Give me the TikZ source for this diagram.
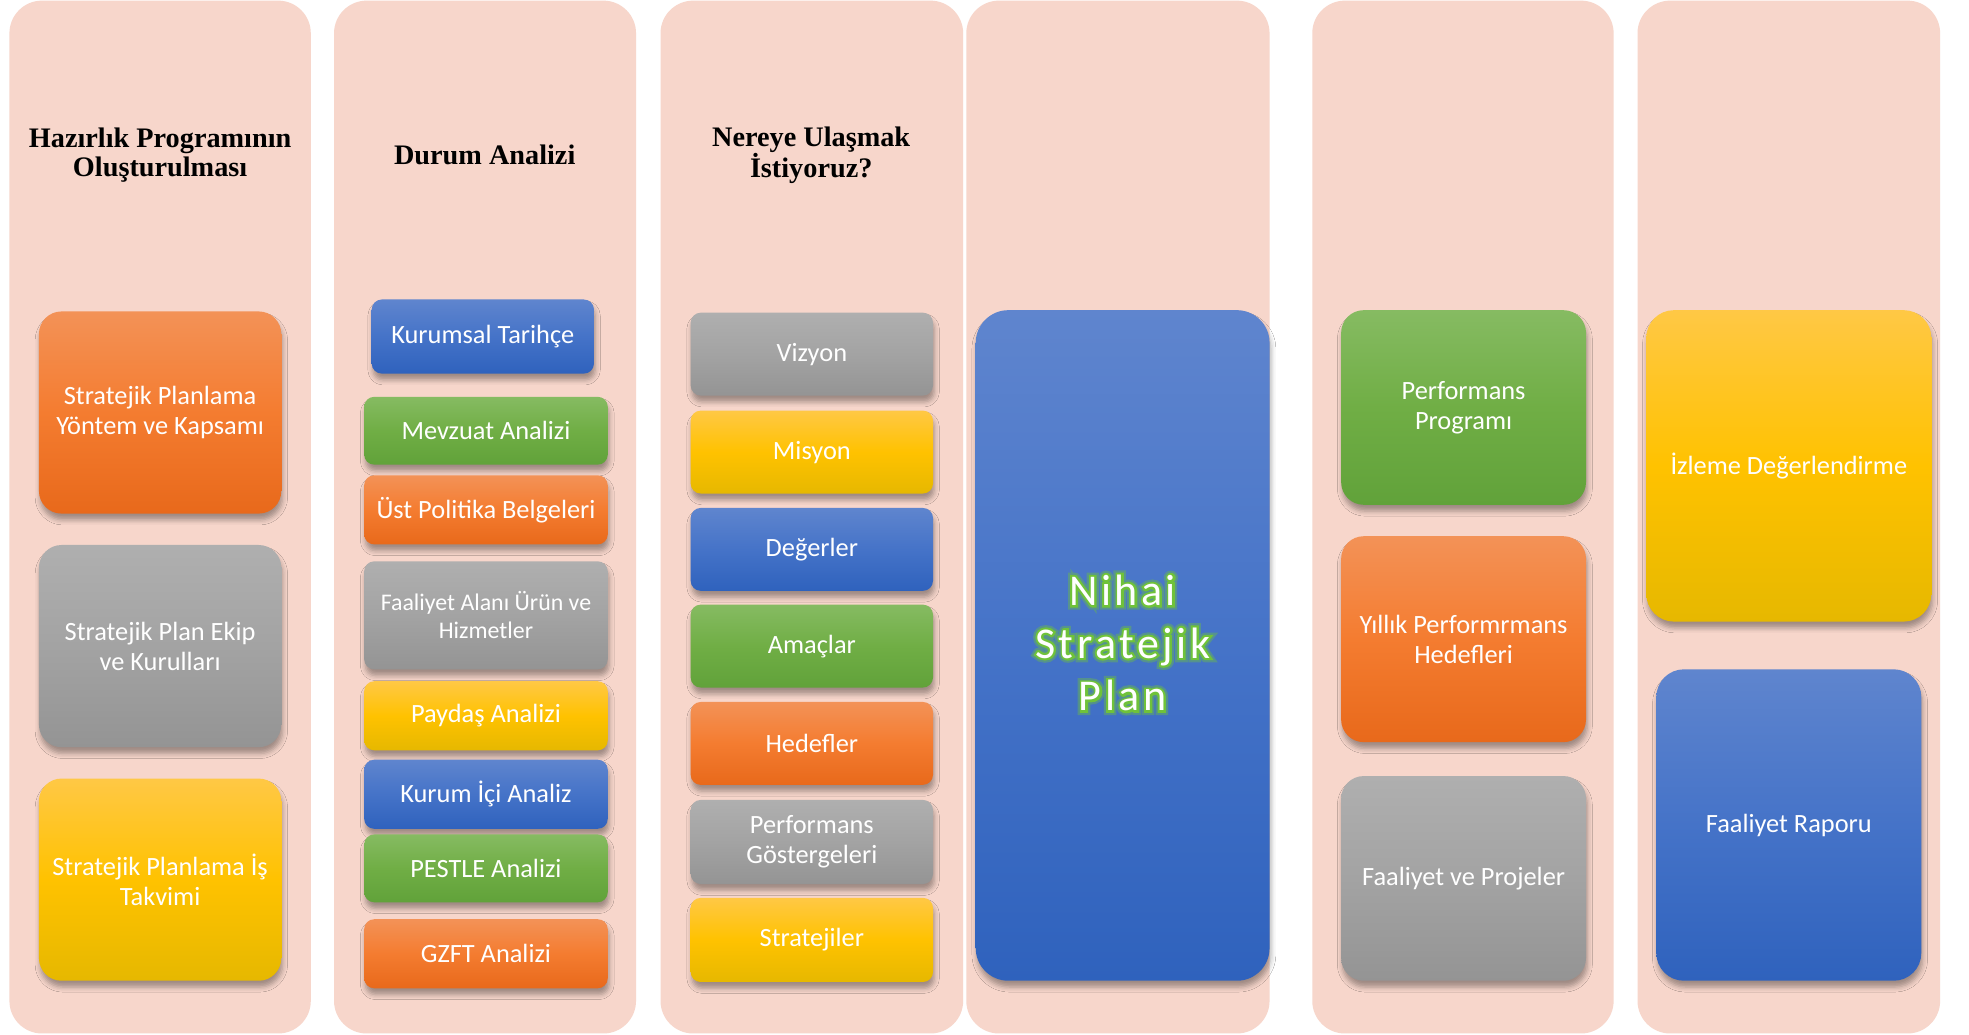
\documentclass[tikz,border=0pt]{standalone}
\usepackage{fontspec}
\setmainfont{Carlito}
\newfontfamily\headfont{Liberation Serif}
\newfontfamily\glowfontA[FakeBold=10]{Carlito}
\newfontfamily\glowfontB[FakeBold=20]{Carlito}
\usetikzlibrary{shadows.blur}
\definecolor{panelc}{HTML}{F7D6CB}
\definecolor{oT}{HTML}{F39257}
\definecolor{oM}{HTML}{F47C30}
\definecolor{oB}{HTML}{E8691B}
\definecolor{gT}{HTML}{AFAFAF}
\definecolor{gM}{HTML}{A3A3A3}
\definecolor{gB}{HTML}{949494}
\definecolor{yT}{HTML}{FFC845}
\definecolor{yM}{HTML}{FFC200}
\definecolor{yB}{HTML}{E6B800}
\definecolor{bT}{HTML}{5F85CE}
\definecolor{bM}{HTML}{4573C8}
\definecolor{bB}{HTML}{2F62BD}
\definecolor{nT}{HTML}{86BB62}
\definecolor{nM}{HTML}{70AE45}
\definecolor{nB}{HTML}{61A23A}
\definecolor{glowc}{HTML}{6FC23A}
\tikzset{
  panelbox/.style={fill=panelc, rounded corners=26pt},
  headtxt/.style={font=\headfont\bfseries\fontsize{22.5}{23}\selectfont, align=center, text=black},
  cbox/.style={rounded corners=#1, align=center, text=white, inner sep=2pt,
    font=\fontsize{21}{24}\selectfont,
    blur shadow={shadow xshift=1pt, shadow yshift=-5pt, shadow blur radius=4pt, shadow opacity=35}},
  cbox/.default=8pt,
  orangeb/.style={top color=oT, bottom color=oB, middle color=oM},
  grayb/.style={top color=gT, bottom color=gB, middle color=gM},
  yellowb/.style={top color=yT, bottom color=yB, middle color=yM},
  blueb/.style={top color=bT, bottom color=bB, middle color=bM},
  greenb/.style={top color=nT, bottom color=nB, middle color=nM},
  bigtxt/.style={font=\fontsize{35}{42}\selectfont\addfontfeature{LetterSpace=8}, align=center, inner sep=0pt},
}
\begin{document}
\begin{tikzpicture}[x=1pt,y=-1pt]
\useasboundingbox (0,0) rectangle (1568,824);
\fill[white] (0,0) rectangle (1568,824);
% panels
\fill[panelbox] (7.5,0.5) rectangle (247.5,823);
\fill[panelbox] (266,0.5) rectangle (506.5,823);
\fill[panelbox] (526,0.5) rectangle (767,823);
\fill[panelbox] (769.5,0.5) rectangle (1011,823);
\fill[panelbox] (1045,0.5) rectangle (1285,823);
\fill[panelbox] (1304,0.5) rectangle (1545,823);
% headings
\node[headtxt] (h1) at (127.5,123.5) {Hazırlık Programının\\Oluşturulması};
\node[headtxt] (h2) at (386,123) {Durum Analizi};
\node[headtxt] (h3) at (646,123.5) {Nereye Ulaşmak\\İstiyoruz?};
% column 1
\node[cbox=18pt, orangeb, minimum width=193pt, minimum height=161pt] (a1) at (127.5,328.5) {Stratejik Planlama\\Yöntem ve Kapsamı};
\node[cbox=18pt, grayb, minimum width=193pt, minimum height=161pt] (a2) at (127.5,514.5) {Stratejik Plan Ekip\\ve Kurulları};
\node[cbox=18pt, yellowb, minimum width=193pt, minimum height=161pt] (a3) at (127.5,700.5) {Stratejik Planlama İş\\Takvimi};
% column 2
\node[cbox, blueb, minimum width=177pt, minimum height=59pt] (b1) at (384.5,268) {Kurumsal Tarihçe};
\node[cbox, greenb, minimum width=194pt, minimum height=54pt] (b2) at (387,343) {Mevzuat Analizi};
\node[cbox, orangeb, minimum width=194pt, minimum height=55pt] (b3) at (387,406) {Üst Politika Belgeleri};
\node[cbox, grayb, minimum width=194pt, minimum height=86pt, font=\fontsize{19}{22}\selectfont] (b4) at (387,490) {Faaliyet Alanı Ürün ve\\Hizmetler};
\node[cbox, yellowb, minimum width=194pt, minimum height=55pt] (b5) at (387,570) {Paydaş Analizi};
\node[cbox, blueb, minimum width=194pt, minimum height=55pt] (b6) at (387,632.5) {Kurum İçi Analiz};
\node[cbox, greenb, minimum width=194pt, minimum height=54pt] (b7) at (387,691.5) {PESTLE Analizi};
\node[cbox, orangeb, minimum width=194pt, minimum height=55pt] (b8) at (387,759.5) {GZFT Analizi};
% column 3
\node[cbox, grayb, minimum width=193pt, minimum height=66pt] (c1) at (646.5,282) {Vizyon};
\node[cbox, yellowb, minimum width=193pt, minimum height=66pt] (c2) at (646.5,360) {Misyon};
\node[cbox, blueb, minimum width=193pt, minimum height=66pt] (c3) at (646.5,437.5) {Değerler};
\node[cbox, greenb, minimum width=193pt, minimum height=66pt] (c4) at (646.5,514.5) {Amaçlar};
\node[cbox, orangeb, minimum width=193pt, minimum height=66pt] (c5) at (646.5,592) {Hedefler};
\node[cbox, grayb, minimum width=193pt, minimum height=67pt] (c6) at (646.5,670.5) {Performans\\Göstergeleri};
\node[cbox, yellowb, minimum width=193pt, minimum height=67pt] (c7) at (646.5,748.5) {Stratejiler};
% column 4
\node[cbox=26pt, blueb, minimum width=234pt, minimum height=534pt] (d1) at (894,514) {};
\node[bigtxt, text=glowc, opacity=0.4] (d1g2) at (894,512) {\glowfontB\fontsize{35}{42}\selectfont\addfontfeature{LetterSpace=8}Nihai\\\glowfontB\fontsize{35}{42}\selectfont\addfontfeature{LetterSpace=8}Stratejik\\\glowfontB\fontsize{35}{42}\selectfont\addfontfeature{LetterSpace=8}Plan};
\node[bigtxt, text=glowc] (d1g1) at (894,512) {\glowfontA\fontsize{35}{42}\selectfont\addfontfeature{LetterSpace=8}Nihai\\\glowfontA\fontsize{35}{42}\selectfont\addfontfeature{LetterSpace=8}Stratejik\\\glowfontA\fontsize{35}{42}\selectfont\addfontfeature{LetterSpace=8}Plan};
\node[bigtxt, text=white] (d1t) at (894,512) {Nihai\\Stratejik\\Plan};
% column 5
\node[cbox=18pt, greenb, minimum width=195pt, minimum height=155pt] (e1) at (1165.5,324.5) {Performans\\Programı};
\node[cbox=18pt, orangeb, minimum width=195pt, minimum height=164pt] (e2) at (1165.5,509) {Yıllık Performrmans\\Hedefleri};
\node[cbox=18pt, grayb, minimum width=195pt, minimum height=163pt] (e3) at (1165.5,699.5) {Faaliyet ve Projeler};
% column 6
\node[cbox=22pt, yellowb, minimum width=227pt, minimum height=248pt] (f1) at (1424.5,371) {İzleme Değerlendirme};
\node[cbox=22pt, blueb, minimum width=211pt, minimum height=248pt] (f2) at (1424.5,657) {Faaliyet Raporu};
\end{tikzpicture}
\end{document}
